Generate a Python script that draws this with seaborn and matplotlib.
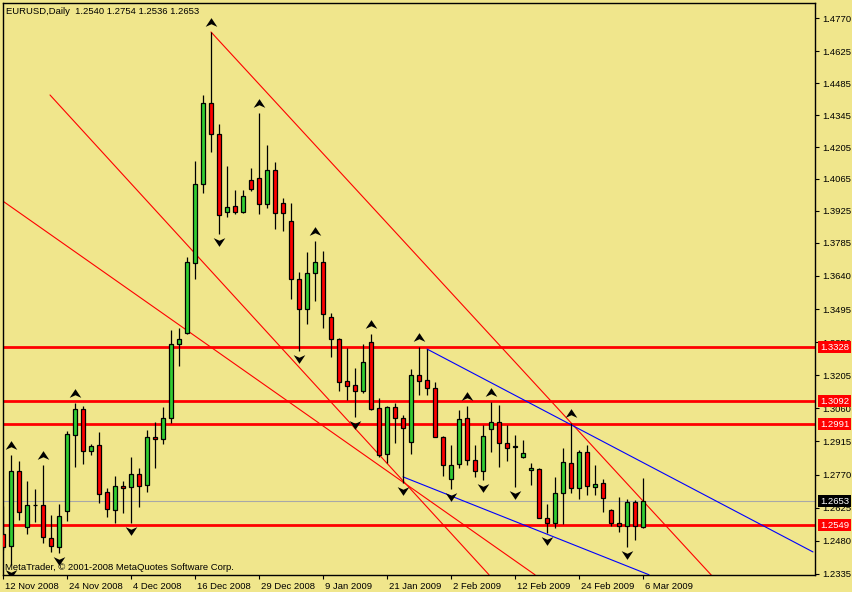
import numpy as np
import pandas as pd
import matplotlib
matplotlib.use("Agg")
import matplotlib.pyplot as plt
import seaborn as sns
from matplotlib.path import Path
from matplotlib.transforms import blended_transform_factory, ScaledTranslation

# ---------------- data (EURUSD daily) ----------------
opens = [1.2510, 1.2457, 1.2786, 1.2541, 1.2635, 1.2637, 1.2492, 1.2453, 1.2611, 1.2944,
         1.3057, 1.2873, 1.2900, 1.2694, 1.2615, 1.2720, 1.2716, 1.2773, 1.2725, 1.2935,
         1.2926, 1.3018, 1.3342, 1.3390, 1.3697, 1.4043, 1.4398, 1.4262, 1.3920, 1.3947,
         1.3920, 1.4060, 1.4069, 1.3955, 1.4104, 1.3960, 1.3881, 1.3627, 1.3495, 1.3653,
         1.3701, 1.3460, 1.3364, 1.3180, 1.3163, 1.3136, 1.3351, 1.3062, 1.2860, 1.3066,
         1.3018, 1.2913, 1.3206, 1.3184, 1.3149, 1.2935, 1.2751, 1.2817, 1.3018, 1.2834,
         1.2786, 1.2970, 1.3000, 1.2908, 1.2893, 1.2847, 1.2790, 1.2795, 1.2580, 1.2558,
         1.2689, 1.2821, 1.2711, 1.2869, 1.2716, 1.2733, 1.2615, 1.2558, 1.2545, 1.2650,
         1.2540]
highs = [1.2633, 1.2856, 1.2830, 1.2742, 1.2707, 1.2812, 1.2593, 1.2641, 1.2961, 1.3084,
         1.3071, 1.2904, 1.2957, 1.2711, 1.2764, 1.2742, 1.2847, 1.2799, 1.2965, 1.3000,
         1.3066, 1.3403, 1.3412, 1.3723, 1.4144, 1.4433, 1.4709, 1.4306, 1.4122, 1.4017,
         1.4017, 1.4113, 1.4354, 1.4214, 1.4139, 1.3982, 1.3960, 1.3657, 1.3745, 1.3793,
         1.3749, 1.3478, 1.3368, 1.3325, 1.3237, 1.3342, 1.3386, 1.3106, 1.3071, 1.3084,
         1.3031, 1.3233, 1.3329, 1.3320, 1.3176, 1.2937, 1.2900, 1.3053, 1.3071, 1.2900,
         1.2987, 1.3088, 1.3075, 1.2987, 1.2944, 1.2922, 1.2821, 1.2799, 1.2641, 1.2760,
         1.2887, 1.2996, 1.2878, 1.2900, 1.2812, 1.2751, 1.2617, 1.2672, 1.2663, 1.2659,
         1.2754]
lows = [1.2440, 1.2372, 1.2571, 1.2510, 1.2562, 1.2470, 1.2431, 1.2427, 1.2567, 1.2803,
        1.2817, 1.2856, 1.2646, 1.2584, 1.2558, 1.2602, 1.2558, 1.2628, 1.2694, 1.2799,
        1.2904, 1.2996, 1.3246, 1.3388, 1.3627, 1.4003, 1.4183, 1.3824, 1.3898, 1.3912,
        1.3916, 1.4012, 1.3912, 1.3938, 1.3846, 1.3837, 1.3539, 1.3311, 1.3430, 1.3530,
        1.3412, 1.3285, 1.3136, 1.3097, 1.3022, 1.3127, 1.3053, 1.2847, 1.2821, 1.2908,
        1.2733, 1.2860, 1.3119, 1.3119, 1.2933, 1.2764, 1.2707, 1.2799, 1.2812, 1.2760,
        1.2746, 1.2869, 1.2803, 1.2830, 1.2716, 1.2843, 1.2725, 1.2578, 1.2514, 1.2536,
        1.2554, 1.2689, 1.2663, 1.2681, 1.2681, 1.2606, 1.2545, 1.2519, 1.2453, 1.2484,
        1.2536]
closes = [1.2453, 1.2786, 1.2606, 1.2637, 1.2638, 1.2497, 1.2457, 1.2589, 1.2948, 1.3057,
          1.2873, 1.2895, 1.2685, 1.2619, 1.2720, 1.2711, 1.2773, 1.2720, 1.2935, 1.2926,
          1.3018, 1.3342, 1.3364, 1.3701, 1.4043, 1.4398, 1.4262, 1.3907, 1.3942, 1.3920,
          1.3990, 1.4021, 1.3955, 1.4104, 1.3916, 1.3916, 1.3627, 1.3495, 1.3653, 1.3701,
          1.3474, 1.3364, 1.3176, 1.3158, 1.3136, 1.3263, 1.3057, 1.2856, 1.3066, 1.3018,
          1.2974, 1.3206, 1.3180, 1.3149, 1.2935, 1.2812, 1.2812, 1.3014, 1.2834, 1.2786,
          1.2939, 1.3000, 1.2908, 1.2887, 1.2889, 1.2865, 1.2799, 1.2580, 1.2558, 1.2689,
          1.2825, 1.2711, 1.2869, 1.2720, 1.2729, 1.2668, 1.2558, 1.2545, 1.2650, 1.2545,
          1.2653]

date_labels = ["12 Nov 2008", "24 Nov 2008", "4 Dec 2008", "16 Dec 2008", "29 Dec 2008",
               "9 Jan 2009", "21 Jan 2009", "2 Feb 2009", "12 Feb 2009", "24 Feb 2009",
               "6 Mar 2009"]
price_ticks = [1.4770, 1.4625, 1.4485, 1.4345, 1.4205, 1.4065, 1.3925, 1.3785, 1.3640,
               1.3495, 1.3350, 1.3205, 1.3060, 1.2915, 1.2770, 1.2625, 1.2480, 1.2335]

levels = [1.3328, 1.3092, 1.2991, 1.2549]   # horizontal support/resistance lines
last_price = 1.2653

fractal_up_bars = [1, 5, 9, 26, 32, 39, 46, 52, 58, 61, 71]
fractal_down_bars = [1, 7, 16, 27, 37, 44, 50, 56, 60, 64, 68, 78]

# trend lines: name, start bar, start price, end bar, end price
trend_names = ["r1", "r2", "r3", "b1", "b2"]
trend_x0 = [26.0, 5.875, -0.5, 53.0, 50.0]
trend_p0 = [1.4709, 1.4433, 1.3980, 1.3320, 1.2760]
trend_x1 = [89.0, 60.75, 66.5, 101.25, 80.75]
trend_p1 = [1.2312, 1.2331, 1.2331, 1.2431, 1.2331]
trend_colors = {"r1": "#FF0000", "r2": "#FF0000", "r3": "#FF0000",
                "b1": "#0000FF", "b2": "#0000FF"}

# ---------------- styling ----------------
BG = "#F0E68C"
GREEN = "#32CD32"
RED = "#FF0000"
sns.set_theme(style="white", rc={"axes.facecolor": BG, "figure.facecolor": BG,
                                 "axes.edgecolor": "black"})
plt.rcParams["font.family"] = ["Liberation Sans", "DejaVu Sans"]
FS = 6.8

fig = plt.figure(figsize=(8.53, 5.92), dpi=100)
ax = fig.add_axes([3 / 853, 17 / 592, 812 / 853, 572 / 592])
ax.set_xlim(0, 101.5)
ax.set_ylim(1.2330, 1.4836)

o = np.array(opens); h = np.array(highs); l = np.array(lows); c = np.array(closes)
x = np.arange(len(o))
bull = c >= o

# horizontal lines
ax.axhline(last_price, color="#A8A8A8", lw=0.8, zorder=1)
for lv in levels:
    ax.axhline(lv, color=RED, lw=2.0, zorder=2)

# trend lines via seaborn
rows = []
for n_, a0, p0, a1, p1 in zip(trend_names, trend_x0, trend_p0, trend_x1, trend_p1):
    rows.append({"bar": a0, "price": p0, "line": n_})
    rows.append({"bar": a1, "price": p1, "line": n_})
tdf = pd.DataFrame(rows)
sns.lineplot(data=tdf, x="bar", y="price", hue="line", units="line", estimator=None,
             palette=trend_colors, legend=False, lw=0.8, ax=ax, zorder=2)

# candles
ax.vlines(x, l, h, color="black", lw=0.9, zorder=3)
body_h = np.maximum(np.abs(c - o), 0.00025)
ax.bar(x, body_h, bottom=np.minimum(o, c), width=0.62,
       color=np.where(bull, GREEN, RED), edgecolor="black", linewidth=0.9, zorder=4)

# fractal arrows via seaborn scatter
up_marker = Path([(0, 0.75), (1, -0.75), (0, -0.3), (-1, -0.75), (0, 0.75)],
                 [Path.MOVETO, Path.LINETO, Path.LINETO, Path.LINETO, Path.CLOSEPOLY])
dn_marker = Path([(0, -0.75), (1, 0.75), (0, 0.3), (-1, 0.75), (0, -0.75)],
                 [Path.MOVETO, Path.LINETO, Path.LINETO, Path.LINETO, Path.CLOSEPOLY])
up_y = h[fractal_up_bars] + 0.0045
dn_y = l[fractal_down_bars] - 0.0036
sns.scatterplot(x=fractal_up_bars, y=up_y, marker=up_marker, s=70, color="black",
                linewidth=0, ax=ax, zorder=6)
sns.scatterplot(x=fractal_down_bars, y=dn_y, marker=dn_marker, s=70, color="black",
                linewidth=0, ax=ax, zorder=6)

# axes / ticks
for sp in ax.spines.values():
    sp.set_visible(True)
    sp.set_color("black")
    sp.set_linewidth(1.0)
ax.yaxis.tick_right()
ax.set_yticks(price_ticks)
ax.set_yticklabels([f"{v:.4f}" for v in price_ticks])
ax.set_xticks(list(range(0, 8 * len(date_labels), 8)))
ax.set_xticklabels(date_labels)
ax.tick_params(axis="both", direction="out", length=3, width=0.8, color="black",
               labelsize=FS, labelcolor="black")
ax.tick_params(axis="y", pad=2, right=True, left=False)
ax.tick_params(axis="x", pad=2, bottom=True)
off = ScaledTranslation(1.5 / 72, 0, fig.dpi_scale_trans)
for lab in ax.get_xticklabels():
    lab.set_ha("left")
    lab.set_transform(lab.get_transform() + off)
ax.set_xlabel("")
ax.set_ylabel("")

# price labels on the right axis
tr = blended_transform_factory(ax.transAxes, ax.transData)
for lv in levels:
    ax.text(1.0 + 5 / 812, lv, f"{lv:.4f}", transform=tr, ha="left", va="center",
            color="white", fontsize=FS, clip_on=False, zorder=10,
            bbox=dict(boxstyle="square,pad=0.18", fc=RED, ec="none"))
ax.text(1.0 + 5 / 812, last_price, f"{last_price:.4f}", transform=tr, ha="left",
        va="center", color="white", fontsize=FS, clip_on=False, zorder=10,
        bbox=dict(boxstyle="square,pad=0.18", fc="black", ec="none"))

# header and footer texts
fig.text(6 / 853, 1 - 11 / 592,
         f"EURUSD,Daily  {opens[-1]:.4f} {highs[-1]:.4f} {lows[-1]:.4f} {closes[-1]:.4f}",
         va="center", ha="left", fontsize=FS, color="black")
fig.text(5 / 853, 1 - 567 / 592, "MetaTrader, \u00a9 2001-2008 MetaQuotes Software Corp.",
         va="center", ha="left", fontsize=FS, color="black")

fig.savefig("out.png", dpi=100, facecolor=BG)
